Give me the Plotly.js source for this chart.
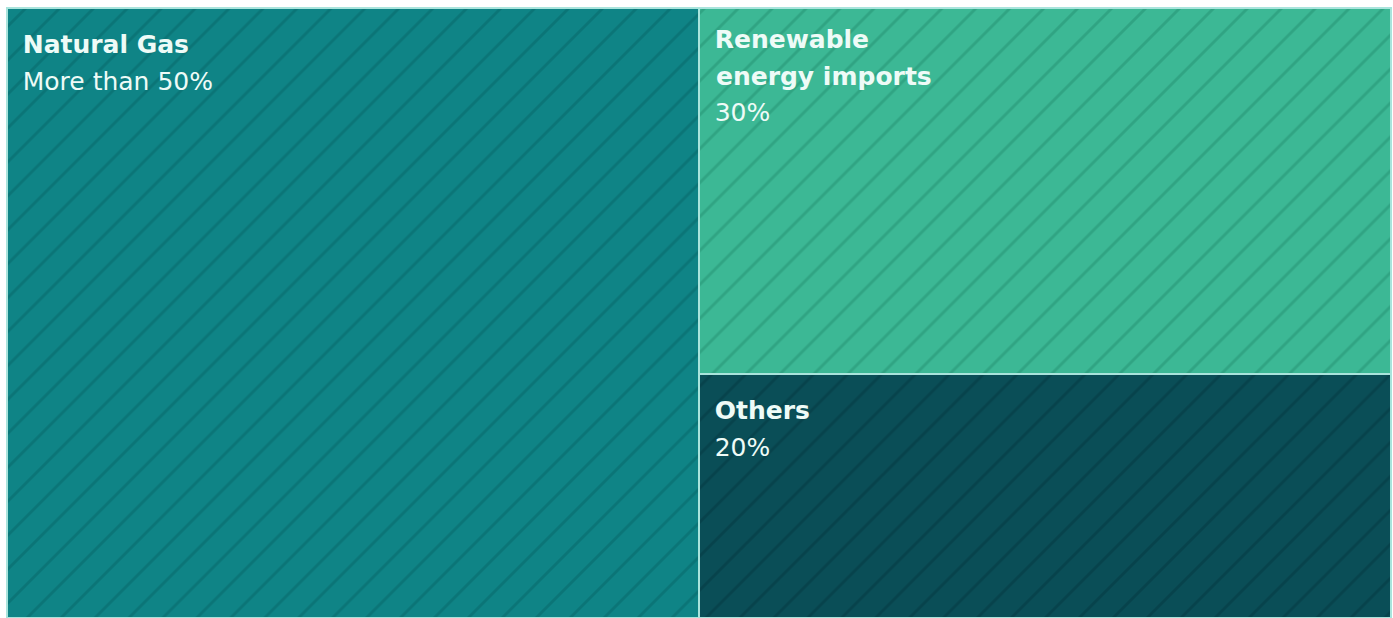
<!DOCTYPE html>
<html>
<head>
<meta charset="utf-8">
<script src="https://cdn.plot.ly/plotly-3.0.1.min.js"></script>
<style>html,body{margin:0;padding:0;background:#fff;}#chart{width:1393px;height:618px;}</style>
</head>
<body>
<div id="chart"></div>
<script>
// Data
var ids = ["Natural Gas", "Imports and others", "Renewable energy imports", "Others"];
var labels = ["Natural Gas", "", "Renewable<br>energy imports", "Others"];
var parents = ["", "", "Imports and others", "Imports and others"];
var values = [50, 50, 30, 20];
var shareText = ["More than 50%", "", "30%", "20%"];

var fillColors = ["#0f8486", "#0d6a6e", "#3cb895", "#0a4e57"];
var stripeColors = ["#0b7577", "#0a5a5e", "#30a483", "#07434c"];

// inset spacers for label text inside each tile
var INDENT = '<span style="font-size:40px">\u00a0</span>';
var gapSizes = [7, 0, 1, 6];
var displayLabels = labels.map(function (l) { return l.replace(/<br>/g, "<br>" + INDENT); });
var templates = labels.map(function (l, i) {
  if (l === "") return "";
  var topGap = '<span style="font-size:' + gapSizes[i] + 'px">\u00a0</span><br>';
  return topGap + '<span style="font-size:25px">' + INDENT + "<b>%{customdata}</b><br>" + INDENT + "%{text}</span>";
});

var trace = {
  type: "treemap",
  ids: ids,
  labels: labels,
  customdata: displayLabels,
  parents: parents,
  values: values,
  text: shareText,
  branchvalues: "total",
  sort: false,
  texttemplate: templates,
  textposition: "top left",
  textfont: {family: "'DejaVu Sans', sans-serif", size: 28, color: "#eefbf7"},
  hoverinfo: "skip",
  tiling: {packing: "slice-dice", pad: 0},
  pathbar: {visible: false},
  marker: {
    colors: fillColors,
    line: {color: "#a9e4dc", width: 2},
    pad: {t: 0, l: 0, r: 0, b: 0},
    pattern: {shape: "/", fgcolor: stripeColors, bgcolor: fillColors, size: 24, solidity: 0.12, fillmode: "replace"}
  }
};

var layout = {
  width: 1393, height: 618,
  margin: {l: 7, r: 2, t: 8, b: 0},
  paper_bgcolor: "#ffffff",
  showlegend: false
};

Plotly.newPlot("chart", [trace], layout, {displayModeBar: false, staticPlot: true});
</script>
</body>
</html>
